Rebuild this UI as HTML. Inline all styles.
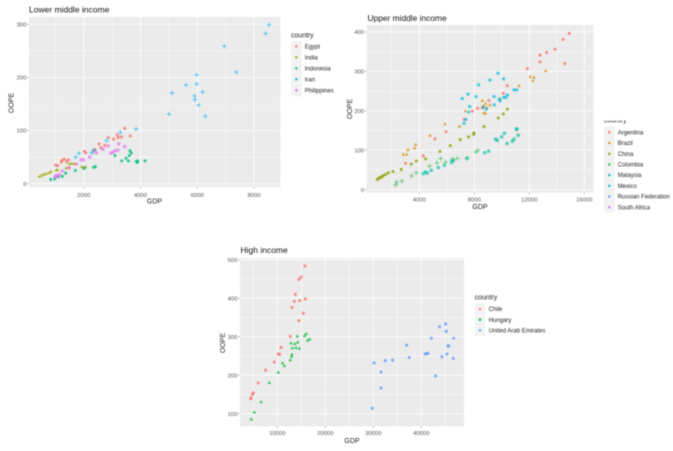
<!DOCTYPE html>
<html lang="en">
<head>
<meta charset="utf-8">
<title>OOPE vs GDP by income group</title>
<style>
  html, body { margin: 0; padding: 0; background: #fff; }
  body { width: 673px; height: 451px; overflow: hidden; }
  svg { display: block; filter: blur(0.45px); font-family: "Liberation Sans", Arial, sans-serif; }
</style>
</head>
<body>
<svg id="chart" width="673" height="451" viewBox="0 0 673 451" xmlns="http://www.w3.org/2000/svg">
  <text x="29" y="12.3" font-size="8.5" fill="#111">Lower middle income</text>
  <text x="367.5" y="21.2" font-size="8.4" fill="#111">Upper middle income</text>
  <text x="240.5" y="253.2" font-size="8.5" fill="#111">High income</text>
</svg>
<script>
// ---------- Lower middle income data: [GDP, OOPE] ----------
const egypt = [[1015,35],[1085,34],[1214,41],[1238,44],[1320,46],[1400,41],[1460,45],[1484,30],[2023,61],[2070,58],[2340,62],[2400,64],[2540,75],[2600,68],[2740,72],[2868,87],[3055,84],[3185,92],[3208,87],[3325,88],[3443,104],[3642,90]];
const india = [[440,14],[520,16],[600,18],[680,19],[780,21],[850,23],[1030,26],[1075,26],[1378,30],[1495,38],[1578,38],[1660,38],[1930,32],[2010,31],[2070,32]];
const indonesia = [[840,8],[980,9],[1110,13],[1250,14],[1367,20],[1707,25],[2010,29],[2350,31],[2410,32],[3100,53],[3337,43],[3490,48],[3570,43],[3607,53],[3630,62],[3677,58],[3853,42],[3900,43],[3890,40],[4158,43]];
const iran = [[1718,50],[1836,57],[2280,58],[2364,63],[2800,81],[3290,97],[3842,103],[5003,131],[5108,171],[5601,186],[5906,165],[5918,158],[5976,205],[5976,188],[6047,148],[6187,173],[6281,127],[6950,259],[7372,210],[8404,283],[8522,299]];
const philippines = [[990,13],[1030,15],[1075,14],[1145,17],[1250,24],[1484,30],[1742,37],[1906,45],[1990,45],[2210,50],[2445,58],[2680,65],[2856,71],[2950,57],[3020,59],[3100,62],[3208,63],[3232,75],[3443,70]];

// ---------- Upper middle income data ----------
const argentina = [[3006,67],[4290,86],[5140,129],[5940,147],[7270,178],[7854,199],[8242,206],[8580,207],[9066,226],[10108,244],[10400,264],[11857,307],[12778,341],[12778,324],[13263,348],[13869,356],[14450,381],[14911,396],[14596,320]];
const brazil = [[2836,90],[3079,90],[3176,102],[3660,106],[3733,115],[4776,138],[5866,167],[6933,161],[7345,200],[8580,226],[8654,213],[8824,219],[8900,209],[8703,195],[8800,194],[9139,215],[9869,231],[11250,264],[12075,287],[12340,285],[12270,277],[13190,302]];
const china = [[946,26],[1067,29],[1164,31],[1285,33],[1382,36],[1552,39],[1746,43],[2085,46],[2690,51],[3418,65],[3782,73],[4460,78],[5503,97],[6254,112],[6981,127],[7587,134],[7951,140],[7975,144],[8703,160],[9745,182],[10108,192],[10400,204]];
const colombia = [[2279,12],[2352,19],[2740,22],[3442,35],[3782,43],[4751,60],[5285,68],[5551,79],[5915,70],[6400,74],[6424,78],[6763,79],[7442,79],[8120,96],[8266,100]];
const malaysia = [[4291,41],[4460,45],[4582,42],[4873,49],[5382,56],[5818,62],[6351,69],[6473,74],[7491,80],[8751,94],[9042,98],[9551,128],[9672,125],[9988,134],[10181,143],[10375,117],[10766,123],[10887,128],[11105,154],[11202,138],[11057,153]];
const mexico = [[7127,231],[7539,242],[7248,168],[7395,178],[7587,197],[7660,211],[8120,236],[8315,266],[8654,209],[8872,204],[9139,278],[9430,236],[9454,215],[9721,295],[9818,230],[9866,225],[10133,281],[10133,234],[10303,234],[10400,240],[10887,253],[11081,253]];
const russianFederation = [];
const southAfrica = [];

// ---------- High income data ----------
const chile = [[4448,139],[4517,141],[4795,150],[5003,154],[6044,180],[7570,213],[9375,234],[10208,255],[10486,254],[10763,272],[12707,301],[13050,376],[13540,392],[13750,410],[14650,394],[14510,449],[15000,455],[15760,484],[14510,342],[15410,361],[15830,398]];
const hungary = [[4587,86],[5211,104],[6600,131],[8334,181],[10208,208],[11110,232],[11457,225],[12707,240],[13000,249],[13050,254],[12845,284],[13120,271],[13610,282],[13890,272],[14164,302],[14233,286],[14580,270],[15690,303],[16040,308],[16315,291],[16730,294]];
const uae = [[29797,114],[30144,232],[31600,208],[31600,167],[32500,238],[34030,239],[36945,278],[37500,246],[40830,255],[41040,256],[41390,257],[42080,296],[42980,198],[43800,326],[44300,248],[45065,333],[45200,314],[45340,255],[45550,276],[45690,276],[46660,244],[46730,296]];

// ---------- Tick labels ----------
const lowerXTicks = [2000, 4000, 6000, 8000];
const lowerYTicks = [0, 100, 200, 300];
const upperXTicks = [4000, 8000, 12000, 16000];
const upperYTicks = [0, 100, 200, 300, 400];
const highXTicks = [10000, 20000, 30000, 40000];
const highYTicks = [100, 200, 300, 400, 500];

const NS = 'http://www.w3.org/2000/svg';
const svg = document.getElementById('chart');

function mk(tag, attrs, parent) {
  const e = document.createElementNS(NS, tag);
  for (const k in attrs) e.setAttribute(k, attrs[k]);
  (parent || svg).appendChild(e);
  return e;
}

function drawMark(g, shape, x, y, color) {
  let m;
  if (shape === 'circle') {
    m = mk('circle', { cx: x, cy: y, r: 1.55, fill: color, 'fill-opacity': 0.8 }, g);
  } else if (shape === 'triangle') {
    m = mk('polygon', { points: (x - 1.8) + ',' + (y + 1.4) + ' ' + (x + 1.8) + ',' + (y + 1.4) + ' ' + x + ',' + (y - 1.7), fill: color, 'fill-opacity': 0.8 }, g);
  } else if (shape === 'square') {
    m = mk('rect', { x: x - 1.6, y: y - 1.6, width: 3.2, height: 3.2, fill: color, 'fill-opacity': 0.65 }, g);
  } else if (shape === 'plus') {
    m = mk('path', { d: 'M' + (x - 2.3) + ' ' + y + 'H' + (x + 2.3) + 'M' + x + ' ' + (y - 2.3) + 'V' + (y + 2.3), stroke: color, 'stroke-width': 0.75, 'stroke-opacity': 0.8, fill: 'none' }, g);
  } else {
    m = mk('g', {}, g);
    mk('circle', { cx: x, cy: y, r: 1.4, fill: color, 'fill-opacity': 0.6 }, m);
    mk('path', { d: 'M' + (x - 2.2) + ' ' + y + 'H' + (x + 2.2) + 'M' + (x - 1.2) + ' ' + (y - 1.9) + 'L' + (x + 1.2) + ' ' + (y + 1.9) + 'M' + (x + 1.2) + ' ' + (y - 1.9) + 'L' + (x - 1.2) + ' ' + (y + 1.9), stroke: color, 'stroke-width': 0.5, 'stroke-opacity': 0.7, fill: 'none' }, m);
  }
  
  
}

function drawPanel(p) {
  const sx = v => p.x0 + (v - p.xRef) * p.xk;
  const sy = v => p.y0 - (v - p.yRef) * p.yk;

  const bg = mk('rect', { x: p.left, y: p.top, width: p.right - p.left, height: p.bottom - p.top, fill: '#EBEBEB' });
  
  

  const xStep = p.xTicks[1] - p.xTicks[0];
  const yStep = p.yTicks[1] - p.yTicks[0];

  // minor gridlines
  for (let v = p.xTicks[0] - xStep / 2; sx(v) < p.right; v += xStep) {
    if (sx(v) <= p.left) continue;
    const l = mk('line', { x1: sx(v), x2: sx(v), y1: p.top, y2: p.bottom, stroke: '#fff', 'stroke-width': 0.4 });
    
    
  }
  for (let v = p.yTicks[0] - yStep / 2; sy(v) > p.top; v += yStep) {
    if (sy(v) >= p.bottom) continue;
    const l = mk('line', { x1: p.left, x2: p.right, y1: sy(v), y2: sy(v), stroke: '#fff', 'stroke-width': 0.4 });
    
    
  }

  // major gridlines, ticks and labels
  p.xTicks.forEach(v => {
    const l = mk('line', { x1: sx(v), x2: sx(v), y1: p.top, y2: p.bottom, stroke: '#fff', 'stroke-width': 0.8 });
    
    
    const t = mk('line', { x1: sx(v), x2: sx(v), y1: p.bottom, y2: p.bottom + 1.5, stroke: '#666', 'stroke-width': 0.5 });
    
    
    const s = mk('text', { x: sx(v), y: p.xLabelY, 'text-anchor': 'middle', 'font-size': 5.9, fill: '#555' });
    
    
    s.textContent = v;
  });
  p.yTicks.forEach(v => {
    const l = mk('line', { x1: p.left, x2: p.right, y1: sy(v), y2: sy(v), stroke: '#fff', 'stroke-width': 0.8 });
    
    
    const t = mk('line', { x1: p.left - 1.5, x2: p.left, y1: sy(v), y2: sy(v), stroke: '#666', 'stroke-width': 0.5 });
    
    
    const s = mk('text', { x: p.left - 2.5, y: sy(v) + 2.1, 'text-anchor': 'end', 'font-size': 5.9, fill: '#555' });
    
    
    s.textContent = v;
  });

  // series
  p.series.forEach(se => {
    const g = mk('g', {});
    
    
    se.data.forEach(d => drawMark(g, se.shape, sx(d[0]), sy(d[1]), se.color));
  });

  // axis titles
  const xt = mk('text', { x: p.xTitleX, y: p.xTitleY, 'text-anchor': 'middle', 'font-size': 7, fill: '#222' });
  
  
  xt.textContent = 'GDP';
  const yt = mk('text', { x: 0, y: 0, transform: 'translate(' + p.yTitleX + ',' + p.yTitleY + ') rotate(-90)', 'text-anchor': 'middle', 'font-size': 7, fill: '#222' });
  
  
  yt.textContent = 'OOPE';

  // legend
  const lg = mk('g', {});
  
  
  const key = mk('rect', { x: p.legX, y: p.legTop, width: 10.6, height: p.legStep * p.series.length + 0.6, fill: '#F2F2F2' }, lg);
  
  
  if (p.legTitleClip) {
    const cp = mk('clipPath', { id: p.id + '-legend-clip' }, lg);
    mk('rect', { x: p.legX - 2, y: p.legTitleClip, width: 50, height: 8 }, cp);
  }
  const lt = mk('text', { x: p.legX, y: p.legTitleY, 'font-size': 6.9, fill: '#222' }, lg);
  if (p.legTitleClip) lt.setAttribute('clip-path', 'url(#' + p.id + '-legend-clip)');
  
  
  lt.textContent = 'country';
  p.series.forEach((se, i) => {
    const cy = p.legFirst + i * p.legStep;
    const dot = mk('circle', { cx: p.legX + 5.3, cy: cy, r: 1.3, fill: se.color, 'fill-opacity': 0.85 }, lg);
    
    
    const s = mk('text', { x: p.legLabelX, y: cy + 2.1, 'font-size': 6, fill: '#222' }, lg);
    
    
    s.textContent = se.name;
  });
}

drawPanel({
  id: 'lower-middle', left: 29, right: 280.5, top: 17, bottom: 187,
  xRef: 2000, x0: 83.7, xk: 0.02841, yRef: 0, y0: 183.7, yk: 0.531,
  xTicks: lowerXTicks, yTicks: lowerYTicks, xLabelY: 196.8,
  xTitleX: 154.5, xTitleY: 203.5, yTitleX: 13.5, yTitleY: 103,
  legX: 291, legTop: 40.7, legTitleY: 37.5, legFirst: 46.3, legStep: 11, legLabelX: 304.7,
  series: [
    { name: 'Egypt', data: egypt, color: '#F8766D', shape: 'circle' },
    { name: 'India', data: india, color: '#A3A500', shape: 'triangle' },
    { name: 'Indonesia', data: indonesia, color: '#00BF7D', shape: 'circle' },
    { name: 'Iran', data: iran, color: '#00B0F6', shape: 'plus' },
    { name: 'Philippines', data: philippines, color: '#E76BF3', shape: 'square' }
  ]
});

drawPanel({
  id: 'upper-middle', left: 366.7, right: 593.7, top: 25, bottom: 192.7,
  xRef: 4000, x0: 419.3, xk: 0.01375, yRef: 0, y0: 189.7, yk: 0.3945,
  xTicks: upperXTicks, yTicks: upperYTicks, xLabelY: 201.3,
  xTitleX: 480, xTitleY: 209.2, yTitleX: 352, yTitleY: 109,
  legX: 604, legTop: 126, legTitleY: 122.3, legTitleClip: 120.5, legFirst: 132.3, legStep: 10.7, legLabelX: 617.7,
  series: [
    { name: 'Argentina', data: argentina, color: '#F8766D', shape: 'circle' },
    { name: 'Brazil', data: brazil, color: '#D89000', shape: 'triangle' },
    { name: 'China', data: china, color: '#8FA300', shape: 'circle' },
    { name: 'Colombia', data: colombia, color: '#2DB84D', shape: 'plus' },
    { name: 'Malaysia', data: malaysia, color: '#00BFA5', shape: 'square' },
    { name: 'Mexico', data: mexico, color: '#00BCE0', shape: 'star' },
    { name: 'Russian Federation', data: russianFederation, color: '#619CFF', shape: 'circle' },
    { name: 'South Africa', data: southAfrica, color: '#C77CFF', shape: 'circle' }
  ]
});

drawPanel({
  id: 'high-income', left: 240, right: 464, top: 258, bottom: 426.3,
  xRef: 10000, x0: 277.3, xk: 0.0048, yRef: 100, y0: 413.7, yk: 0.385,
  xTicks: highXTicks, yTicks: highYTicks, xLabelY: 435,
  xTitleX: 352, xTitleY: 443.2, yTitleX: 225, yTitleY: 343,
  legX: 474.7, legTop: 303.3, legTitleY: 299.7, legFirst: 309, legStep: 10.7, legLabelX: 488.7,
  series: [
    { name: 'Chile', data: chile, color: '#F8766D', shape: 'circle' },
    { name: 'Hungary', data: hungary, color: '#00BA38', shape: 'triangle' },
    { name: 'United Arab Emirates', data: uae, color: '#619CFF', shape: 'circle' }
  ]
});
</script>
</body>
</html>
